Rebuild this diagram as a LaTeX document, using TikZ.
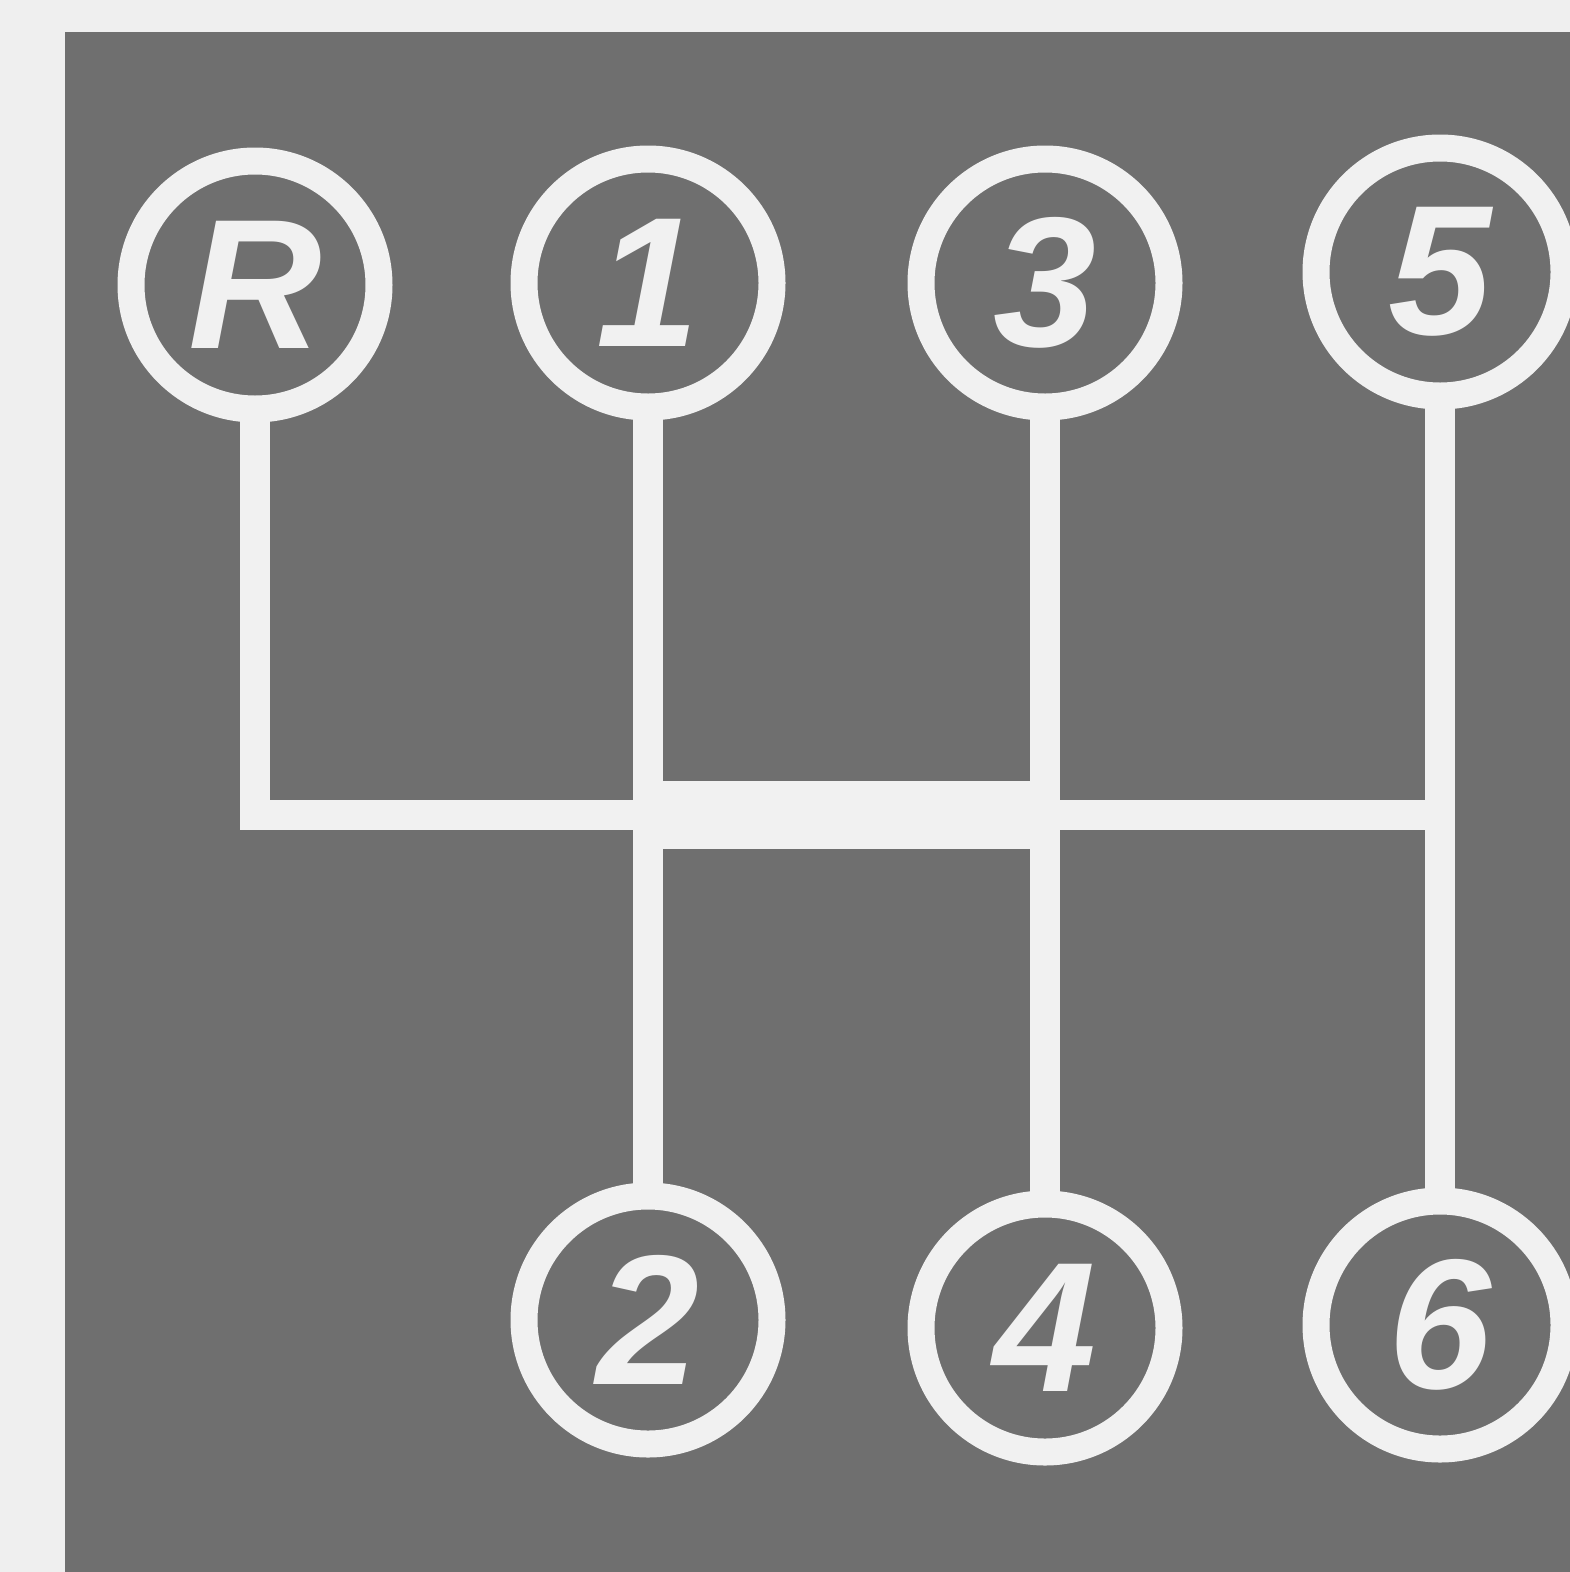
\documentclass[tikz,border=0pt]{standalone}
\usepackage{fontspec}
\setmainfont{Liberation Sans}
\definecolor{paper}{HTML}{EFEFEF}
\definecolor{plate}{HTML}{6F6F6F}
\definecolor{ink}{HTML}{F1F1F1}
\begin{document}
\begin{tikzpicture}[x=1pt,y=-1pt,
  gear/.style={circle,draw=ink,line width=27pt,fill=plate,text=ink,
    minimum size=248pt,inner sep=0pt,outer sep=0pt,
    font=\fontsize{185}{185}\selectfont\bfseries\itshape},
  gate/.style={draw=ink,line width=30pt,line join=miter},
  neutral/.style={draw=ink,line width=68pt}]
\useasboundingbox (0,0) rectangle (1570,1572);
\fill[paper] (0,0) rectangle (1570,1572);
\fill[plate] (65,32) rectangle (1570,1572);
\coordinate (jR) at (255,815);
\coordinate (j1) at (650,815);
\coordinate (j3) at (1045,815);
\coordinate (j5) at (1440,815);
\node[gear] (R) at (255,285) {R};
\node[gear] (g1) at (648,283) {1};
\node[gear] (g3) at (1045,283) {3};
\node[gear] (g5) at (1440,272) {5};
\node[gear] (g2) at (648,1320) {2};
\node[gear] (g4) at (1045,1328) {4};
\node[gear] (g6) at (1440,1325) {6};
\draw[gate] (R.south) |- (j5);
\draw[gate] (g1.south) -- (g2.north);
\draw[gate] (g3.south) -- (g4.north);
\draw[gate] (g5.south) -- (g6.north);
\draw[neutral] (j1) -- (j3);
\end{tikzpicture}
\end{document}
